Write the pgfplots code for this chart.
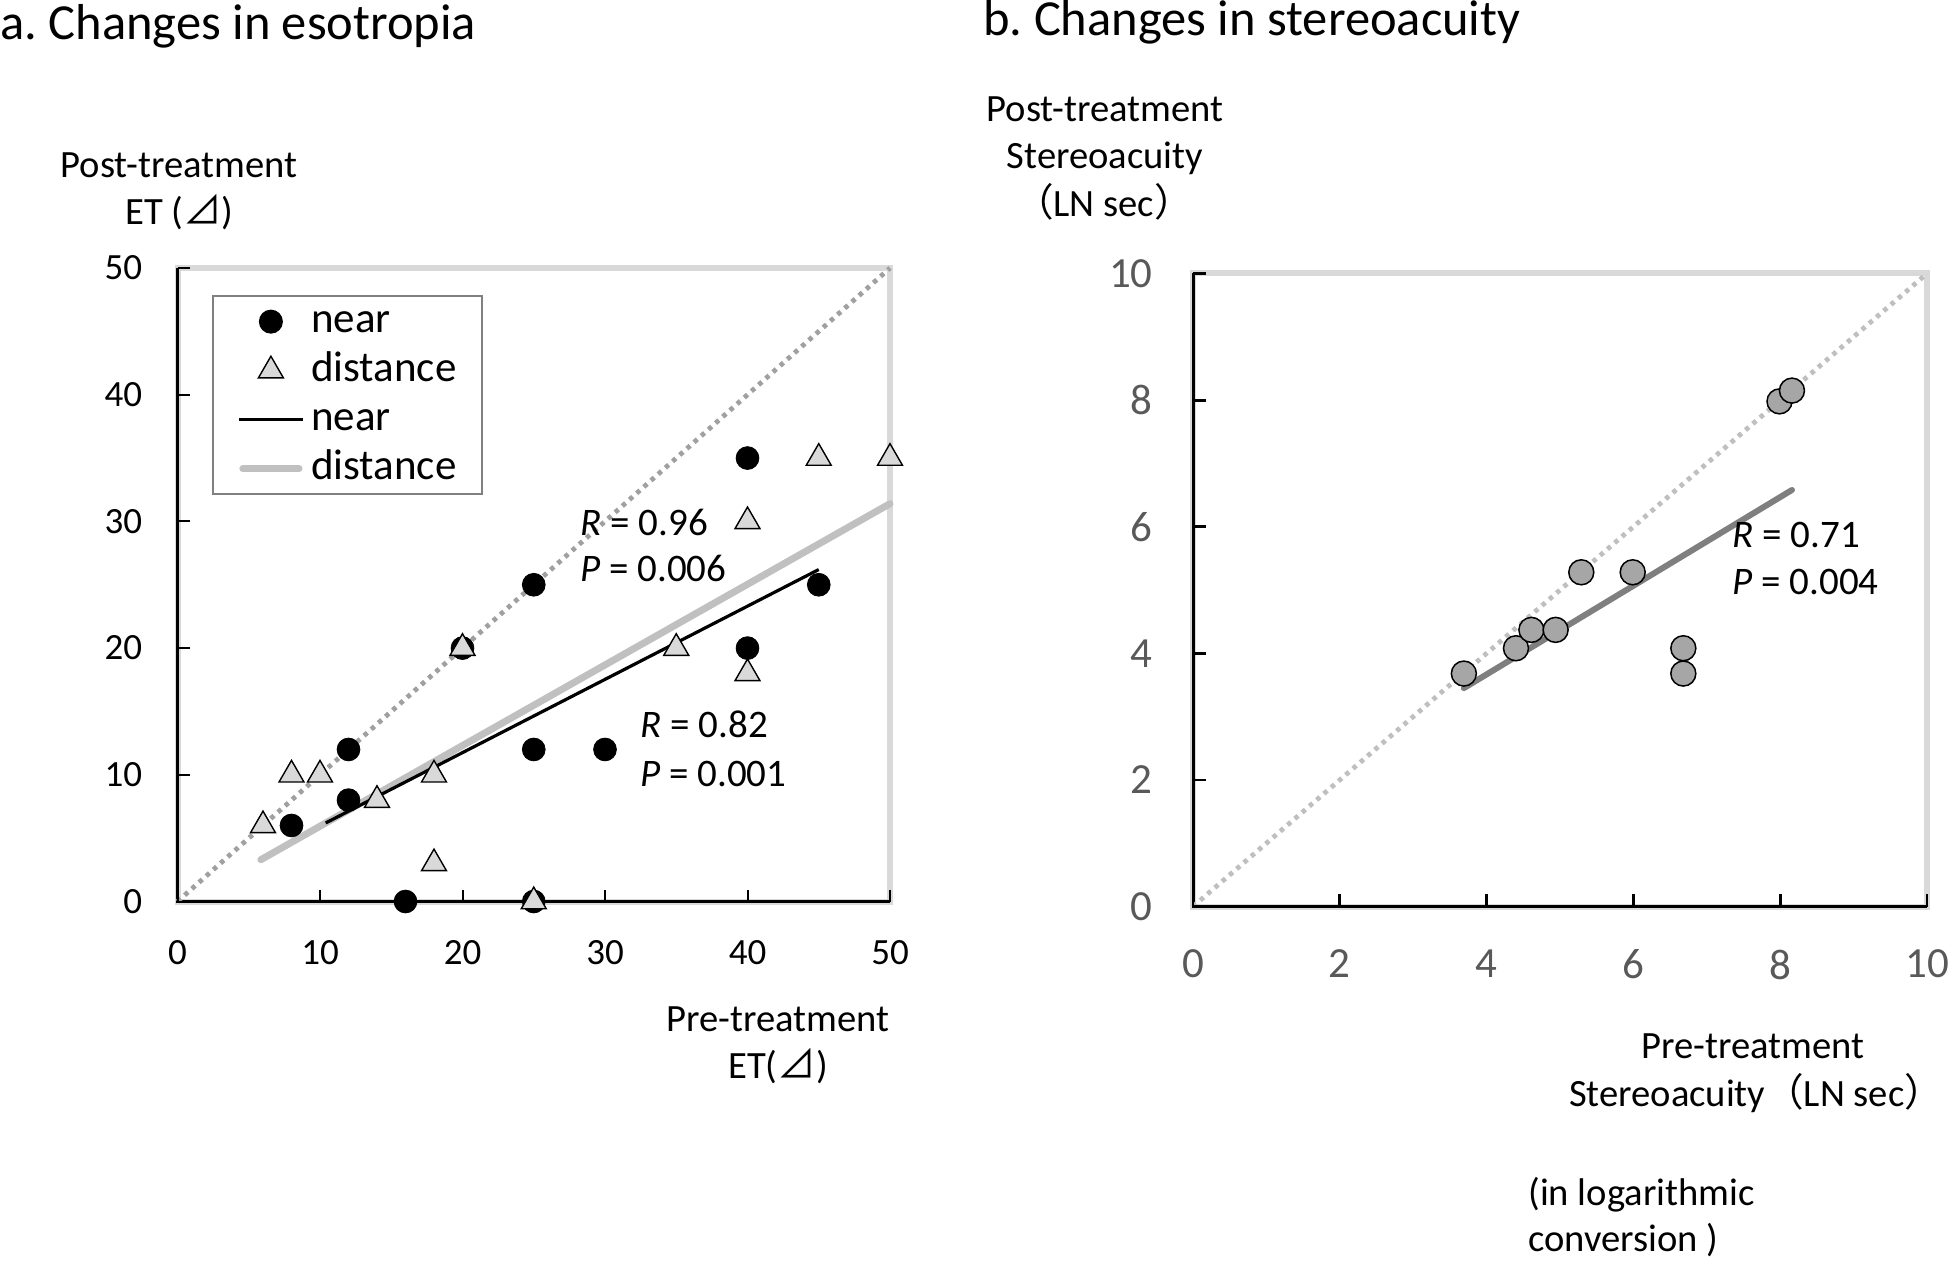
\documentclass[border=0pt]{standalone}
\usepackage{pgfplots}
\pgfplotsset{compat=1.18}
\usepackage{fontspec}
\setmainfont{Carlito}
\newfontfamily\cjk{Noto Sans CJK JP}
\frenchspacing
\definecolor{frameg}{HTML}{D9D9D9}
\definecolor{diag1}{HTML}{A0A0A0}
\definecolor{diag2}{HTML}{BFBFBF}
\definecolor{tri}{HTML}{D9D9D9}
\definecolor{distl}{HTML}{C0C0C0}
\definecolor{circ}{HTML}{A6A6A6}
\definecolor{regr}{HTML}{7F7F7F}
\definecolor{tickg}{HTML}{595959}
\newcommand\fs[1]{\fontsize{#1}{#1}\selectfont}
\pgfplotsset{
  markleg/.style={legend image code/.code={\path (0pt,0pt) (31.6pt,0pt); \draw[##1] plot[only marks] coordinates {(15.8pt,0pt)};}},
  lineleg/.style={legend image code/.code={\draw[##1] (0pt,0pt) -- (31.6pt,0pt);}},
  lineleg2/.style={legend image code/.code={\draw[##1] (1.75pt,0pt) -- (29.85pt,0pt);}},
}
\begin{document}
\begin{tikzpicture}
\path[use as bounding box] (0,0) rectangle (976pt,630pt);

% ---------------- panel a ----------------
\begin{axis}[
  at={(88.75pt,179.25pt)}, anchor=south west,
  scale only axis, width=356.25pt, height=316.75pt,
  xmin=0, xmax=50, ymin=0, ymax=50,
  xtick={0,10,...,50}, ytick={0,10,...,50},
  axis line style={draw=none},
  xtick pos=left, ytick pos=left,
  tick align=inside, major tick length=6pt,
  tick style={black, line width=1pt},
  axis on top,
  ticklabel style={font=\fs{18.5}, inner sep=0pt},
  xticklabel style={yshift=-19.5pt},
  yticklabel style={xshift=-17.5pt},
  /pgf/number format/assume math mode=true,
  clip=false,
  legend cell align=left,
  legend style={at={(0.048,0.957)}, anchor=north west, draw=gray, line width=1pt,
    fill=white, font=\fs{21.5}, inner xsep=12.5pt, inner ysep=3.2pt, row sep=5.5pt,
    nodes={inner sep=0pt, text height=15pt, text depth=4pt},
    /tikz/every odd column/.append style={column sep=3.5pt}},
]
\draw[frameg, line width=3pt] (rel axis cs:0,0) rectangle (rel axis cs:1,1);
\draw[black, line width=1.2pt] (rel axis cs:0,1) -- (rel axis cs:0,0) -- (rel axis cs:1,0);

\addlegendimage{black, mark=*, mark size=5.7pt, line width=0.6pt, markleg}
\addlegendentry{near}
\addlegendimage{black, mark=triangle*, mark size=7.2pt, line width=0.7pt, mark options={fill=tri}, markleg}
\addlegendentry{distance}
\addlegendimage{black, line width=1.6pt, lineleg}
\addlegendentry{near}
\addlegendimage{distl, line width=3.5pt, line cap=round, lineleg2}
\addlegendentry{distance}

% near
\addplot[forget plot, only marks, mark=*, mark size=5.7pt, black] coordinates {
(8,6) (12,12) (12,8) (16,0) (20,20) (25,25) (25,12) (25,0) (30,12) (40,35) (40,20) (45,25)};
% distance
\addplot[forget plot, only marks, mark=triangle*, mark size=7.2pt, black, line width=0.7pt,
  mark options={fill=tri}] coordinates {
(6,6) (8,10) (10,10) (14,8) (18,10) (18,3) (20,20) (25,0) (35,20) (40,30) (40,18) (45,35) (50,35)};
% regression lines
\addplot[forget plot, distl, line width=3.5pt, line cap=round] coordinates {(5.85,3.3) (50,31.4)};
\addplot[forget plot, black, line width=1.6pt] coordinates {(10.4,6.2) (45,26.2)};
% identity
\addplot[forget plot, diag1, line width=2.4pt, dash pattern=on 2.2pt off 2.6pt] coordinates {(0,0) (50,50)};
\end{axis}

% ---------------- panel b ----------------
\begin{axis}[
  at={(596.5pt,176.75pt)}, anchor=south west,
  scale only axis, width=367pt, height=316.5pt,
  xmin=0, xmax=10, ymin=0, ymax=10,
  xtick={0,2,...,10}, ytick={0,2,...,10},
  axis line style={draw=none},
  xtick pos=left, ytick pos=left,
  tick align=inside, major tick length=6.5pt,
  tick style={black, line width=1.4pt},
  axis on top,
  ticklabel style={font=\fs{21.5}, inner sep=0pt, text=tickg},
  xticklabel style={yshift=-21.5pt},
  yticklabel style={xshift=-20pt},
  /pgf/number format/assume math mode=true,
  clip=false,
]
\draw[frameg, line width=3pt] (rel axis cs:0,0) rectangle (rel axis cs:1,1);
\draw[black, line width=1.5pt] (rel axis cs:0,1) -- (rel axis cs:0,0) -- (rel axis cs:1,0);
\addplot[only marks, mark=*, mark size=6.25pt, black, line width=0.75pt, mark options={fill=circ}] coordinates {
(3.69,3.68) (4.40,4.08) (4.61,4.37) (4.94,4.37) (5.29,5.28) (5.99,5.28) (6.68,4.08) (6.68,3.68) (7.99,7.98) (8.16,8.15)};
\addplot[regr, line width=3pt, line cap=round] coordinates {(3.69,3.45) (8.16,6.58)};
\addplot[diag2, line width=2.4pt, dash pattern=on 2.2pt off 2.6pt] coordinates {(0,0) (10,10)};
\end{axis}

% ---------------- texts ----------------
\node[anchor=base west, inner sep=0pt, font=\fs{25.25}] at (0pt,610pt) {a. Changes in esotropia};
\node[anchor=base west, inner sep=0pt, font=\fs{25.25}] at (491.5pt,612pt) {b. Changes in stereoacuity};

\node[anchor=base, inner sep=0pt, font=\fs{19.3}] at (89.5pt,541pt) {Post-treatment};
\node[anchor=base, inner sep=0pt, font=\fs{19.3}] at (89.75pt,517.5pt) {ET ({\cjk ⊿})};
\node[anchor=base, inner sep=0pt, font=\fs{19.3}] at (389pt,114.5pt) {Pre-treatment};
\node[anchor=base, inner sep=0pt, font=\fs{19.3}] at (389pt,91pt) {ET({\cjk ⊿})};

\node[anchor=base west, inner sep=0pt, font=\fs{19.5}] at (290pt,362.5pt) {\textit{R} = 0.96};
\node[anchor=base west, inner sep=0pt, font=\fs{19.5}] at (290pt,339.5pt) {\textit{P} = 0.006};
\node[anchor=base west, inner sep=0pt, font=\fs{19.5}] at (320pt,261.5pt) {\textit{R} = 0.82};
\node[anchor=base west, inner sep=0pt, font=\fs{19.5}] at (320pt,237pt) {\textit{P} = 0.001};

\node[anchor=base, inner sep=0pt, font=\fs{19.3}] at (552.5pt,569pt) {Post-treatment};
\node[anchor=base, inner sep=0pt, font=\fs{19.3}] at (552.5pt,545.5pt) {Stereoacuity};
\node[anchor=base, inner sep=0pt, font=\fs{19.3}] at (552pt,521.5pt) {{\cjk （}LN sec{\cjk ）}};

\node[anchor=base west, inner sep=0pt, font=\fs{19.5}] at (866pt,356pt) {\textit{R} = 0.71};
\node[anchor=base west, inner sep=0pt, font=\fs{19.5}] at (866pt,333pt) {\textit{P} = 0.004};

\node[anchor=base, inner sep=0pt, font=\fs{19.3}] at (876.5pt,101pt) {Pre-treatment};
\node[anchor=base, inner sep=0pt, font=\fs{19.3}] at (878pt,77pt) {Stereoacuity{\cjk （}LN sec{\cjk ）}};
\node[anchor=base west, inner sep=0pt, font=\fs{19.3}] at (764pt,27.5pt) {(in logarithmic};
\node[anchor=base west, inner sep=0pt, font=\fs{19.3}] at (764pt,4.5pt) {conversion )};
\end{tikzpicture}
\end{document}
